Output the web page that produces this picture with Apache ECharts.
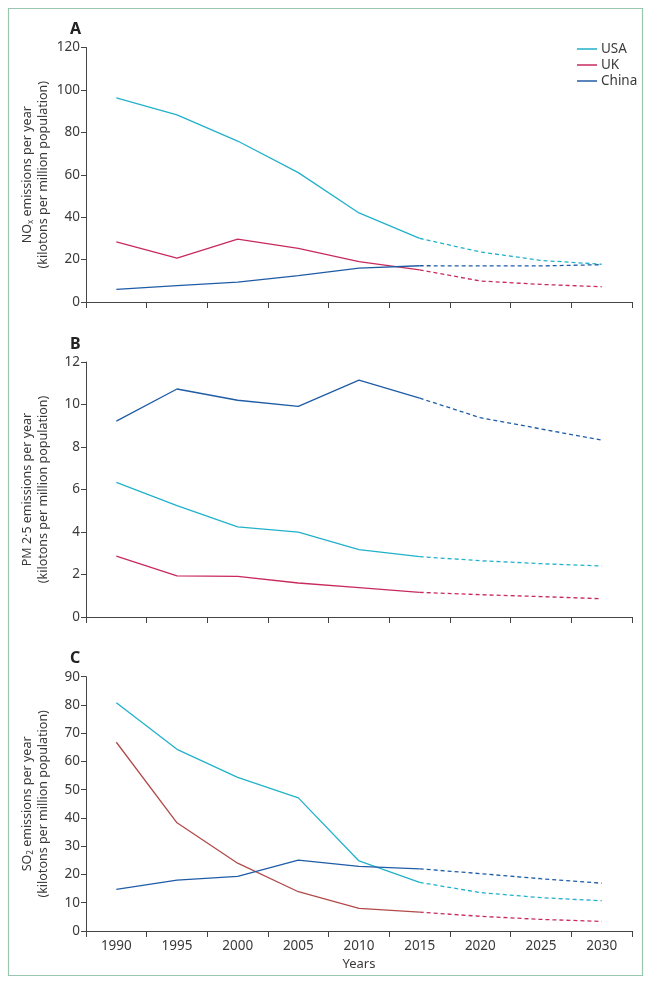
<!DOCTYPE html>
<html>

<head>
    <meta charset="utf-8" />
    <title>Emissions per million population</title>
    <script src="https://cdn.jsdelivr.net/npm/echarts@6/dist/echarts.min.js"></script>
    <style>
        html, body { margin: 0; padding: 0; background: #fff; }
        #main { width: 653px; height: 986px; }
    </style>
</head>

<body>
    <div id="main"></div>
    <script type="text/javascript">
        var years = ['1990', '1995', '2000', '2005', '2010', '2015', '2020', '2025', '2030'];
        // last observed year, projections (dashed) after it
        var lastObs = 5;

        // A: NOx
        var noxUSA = [96.2, 88.2, 75.9, 61.0, 42.0, 30.0, 23.6, 19.6, 17.8];
        var noxUK = [28.3, 20.7, 29.6, 25.3, 19.0, 15.1, 9.9, 8.3, 7.2];
        var noxChina = [6.0, 7.7, 9.4, 12.4, 16.0, 17.1, 17.0, 17.0, 17.6];
        // B: PM 2.5
        var pmUSA = [6.34, 5.24, 4.24, 3.99, 3.17, 2.84, 2.65, 2.51, 2.40];
        var pmUK = [2.87, 1.94, 1.91, 1.60, 1.38, 1.16, 1.05, 0.96, 0.86];
        var pmChina = [9.22, 10.73, 10.20, 9.91, 11.15, 10.30, 9.38, 8.85, 8.33];
        // C: SO2
        var so2USA = [80.8, 64.3, 54.4, 47.1, 24.8, 17.2, 13.6, 11.8, 10.7];
        var so2UK = [66.8, 38.3, 24.0, 13.9, 8.0, 6.7, 5.2, 4.1, 3.4];
        var so2China = [14.7, 18.0, 19.3, 25.1, 22.9, 22.0, 20.3, 18.5, 16.9];

        var cUSA = '#22b1cb';
        var cUK = '#c82a5c';
        var cUKso2 = '#b24a4a';
        var cChina = '#1f5ca6';
        var txt = '#3a3a3a';
        var font = 'Noto Sans';

        var panels = [
            { key: 'A', top: 47.5, height: 254.5, max: 120, interval: 20,
              name: '{t|NO}{s|x}{t| emissions per year}\n{t|(kilotons per million population)}',
              data: [['USA', noxUSA, cUSA, cUSA], ['UK', noxUK, cUK, cUK], ['China', noxChina, cChina, cChina]] },
            { key: 'B', top: 362, height: 255, max: 12, interval: 2,
              name: '{t|PM 2·5 emissions per year}\n{t|(kilotons per million population)}',
              data: [['USA', pmUSA, cUSA, cUSA], ['UK', pmUK, cUK, cUK], ['China', pmChina, cChina, cChina]] },
            { key: 'C', top: 676.7, height: 254.3, max: 90, interval: 10,
              name: '{t|SO}{s|2}{t| emissions per year}\n{t|(kilotons per million population)}',
              data: [['USA', so2USA, cUSA, cUSA], ['UK', so2UK, cUKso2, cUK], ['China', so2China, cChina, cChina]] }
        ];

        var grids = [], xAxes = [], yAxes = [], series = [], titles = [];
        panels.forEach(function (p, k) {
            grids.push({ left: 86, right: 21, top: p.top, height: p.height });
            titles.push({
                text: p.key, left: 65, top: p.top - 31,
                textStyle: { fontFamily: font, fontSize: 16, fontWeight: 'bold', color: '#222' }
            });
            var last = k === 2;
            xAxes.push({
                type: 'category', gridIndex: k, data: years, boundaryGap: true,
                axisLine: { lineStyle: { color: '#444', width: 1 } },
                axisTick: { show: true, length: 6, inside: false, lineStyle: { color: '#444' } },
                axisLabel: { show: last, color: txt, fontFamily: font, fontSize: 13.5, margin: 8 },
                name: last ? 'Years' : '', nameLocation: 'middle', nameGap: 27, nameMoveOverlap: false,
                nameTextStyle: { color: txt, fontFamily: font, fontSize: 13 }
            });
            yAxes.push({
                type: 'value', gridIndex: k, min: 0, max: p.max, interval: p.interval,
                splitLine: { show: false },
                axisLine: { show: true, lineStyle: { color: '#444', width: 1 } },
                axisTick: { show: true, length: 5, lineStyle: { color: '#444' } },
                axisLabel: { color: txt, fontFamily: font, fontSize: 13.5, margin: 6 },
                name: p.name, nameLocation: 'middle', nameGap: 35, nameRotate: 90,
                nameMoveOverlap: false,
                nameTextStyle: {
                    lineHeight: 16,
                    rich: {
                        t: { color: txt, fontFamily: font, fontSize: 12.5, lineHeight: 16 },
                        s: { color: txt, fontFamily: font, fontSize: 8, lineHeight: 16, verticalAlign: 'bottom' }
                    }
                }
            });
            p.data.forEach(function (d) {
                var arr = d[1];
                series.push({
                    name: d[0], type: 'line', xAxisIndex: k, yAxisIndex: k, symbol: 'none',
                    data: arr.map(function (v, i) { return i <= lastObs ? v : '-'; }),
                    lineStyle: { color: d[2], width: 1.3 }, itemStyle: { color: d[2] },
                    z: 2, animation: false
                });
                series.push({
                    name: d[0], type: 'line', xAxisIndex: k, yAxisIndex: k, symbol: 'none',
                    data: arr.map(function (v, i) { return i >= lastObs ? v : '-'; }),
                    lineStyle: { color: d[3], width: 1.3, type: [4, 3] }, itemStyle: { color: d[3] },
                    z: 2, animation: false
                });
            });
        });

        var myChart = echarts.init(document.getElementById('main'));
        myChart.setOption({
            backgroundColor: '#fff',
            animation: false,
            title: titles,
            legend: {
                data: ['USA', 'UK', 'China'], orient: 'vertical', left: 572, top: 37,
                icon: 'rect', itemWidth: 20, itemHeight: 1.5, itemGap: 2,
                textStyle: { color: txt, fontFamily: font, fontSize: 13.5, padding: [0, 0, 0, -1] }
            },
            grid: grids,
            xAxis: xAxes,
            yAxis: yAxes,
            series: series,
            graphic: [{
                type: 'rect', silent: true, z: 100,
                shape: { x: 8.5, y: 8.5, width: 634, height: 967 },
                style: { fill: null, stroke: '#98c6ae', lineWidth: 1.2 }
            }]
        });
    </script>
</body>

</html>
